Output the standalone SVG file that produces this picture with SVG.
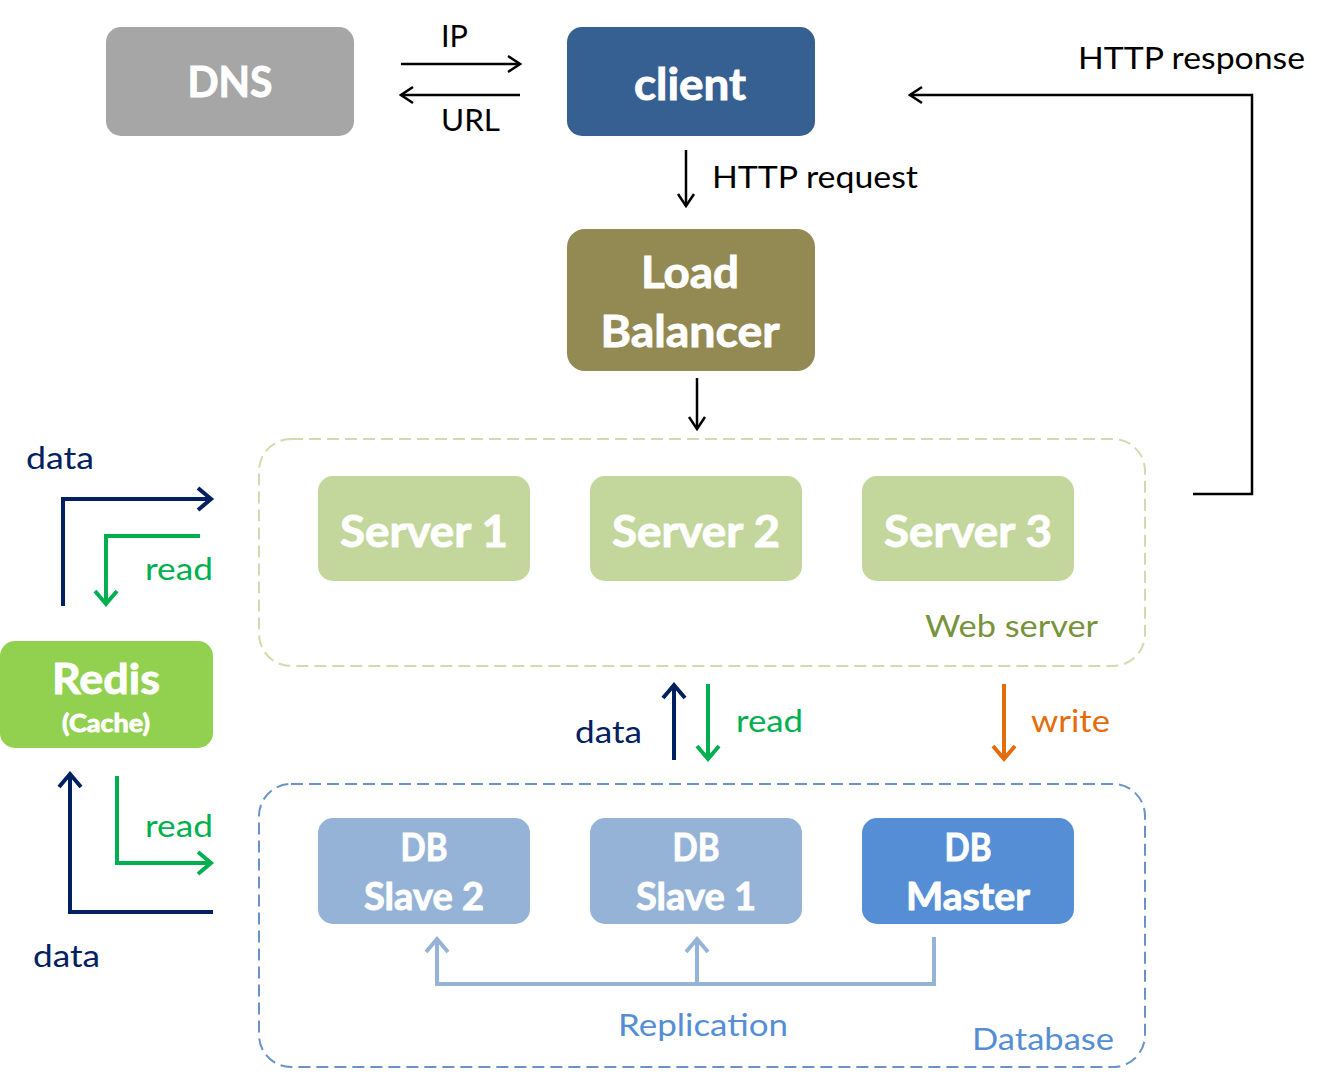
<svg xmlns="http://www.w3.org/2000/svg" width="1330" height="1083" viewBox="0 0 1330 1083">
<style>
  .lbl { font-family: Lato, "Liberation Sans", sans-serif; font-size: 30px; }
  .bold { font-family: Lato, "Liberation Sans", sans-serif; font-weight: bold; fill: #ffffff; stroke: #ffffff; stroke-width: 0.9; text-anchor: middle; }
  .blk { stroke: #000; stroke-width: 2.5; fill: none; }
  .navy { stroke: #002060; stroke-width: 4; fill: none; }
  .green { stroke: #00b050; stroke-width: 4; fill: none; }
  .orange { stroke: #e46c0a; stroke-width: 4; fill: none; }
  .repl { stroke: #95b3d7; stroke-width: 4; fill: none; }
</style>
<defs>
  <marker id="ahBlack" markerUnits="userSpaceOnUse" viewBox="0 0 20 20" markerWidth="20" markerHeight="20" refX="18" refY="10" orient="auto">
    <path d="M6,2 L18,10 L6,18" fill="none" stroke="#000" stroke-width="2.5"/>
  </marker>
  <marker id="ahNavy" markerUnits="userSpaceOnUse" viewBox="0 0 22 26" markerWidth="22" markerHeight="26" refX="19" refY="13" orient="auto">
    <path d="M5,2 L18,13 L5,24" fill="none" stroke="#002060" stroke-width="4"/>
  </marker>
  <marker id="ahGreen" markerUnits="userSpaceOnUse" viewBox="0 0 22 26" markerWidth="22" markerHeight="26" refX="19" refY="13" orient="auto">
    <path d="M5,2 L18,13 L5,24" fill="none" stroke="#00b050" stroke-width="4"/>
  </marker>
  <marker id="ahOrange" markerUnits="userSpaceOnUse" viewBox="0 0 22 26" markerWidth="22" markerHeight="26" refX="19" refY="13" orient="auto">
    <path d="M5,2 L18,13 L5,24" fill="none" stroke="#e46c0a" stroke-width="4"/>
  </marker>
  <marker id="ahRepl" markerUnits="userSpaceOnUse" viewBox="0 0 22 26" markerWidth="22" markerHeight="26" refX="19" refY="13" orient="auto">
    <path d="M5,2 L18,13 L5,24" fill="none" stroke="#95b3d7" stroke-width="4"/>
  </marker>
</defs>
<rect width="1330" height="1083" fill="#ffffff"/>

<!-- containers -->
<g id="webserver-group">
  <rect x="259" y="439" width="886" height="227" rx="32" fill="none" stroke="#cfdcaf" stroke-width="2" stroke-dasharray="12 6"/>
  <text class="lbl" x="925" y="637" fill="#77933c" textLength="173" lengthAdjust="spacingAndGlyphs">Web server</text>
</g>
<g id="database-group">
  <rect x="259" y="784" width="886" height="283" rx="32" fill="none" stroke="#6a92c8" stroke-width="2" stroke-dasharray="12 6"/>
  <text class="lbl" x="972" y="1050" fill="#558ed5" textLength="142" lengthAdjust="spacingAndGlyphs">Database</text>
</g>

<!-- nodes -->
<g id="dns">
  <rect x="106" y="27" width="248" height="109" rx="15" fill="#a6a6a6"/>
  <text class="bold" x="230" y="97" font-size="42" textLength="85" lengthAdjust="spacingAndGlyphs">DNS</text>
</g>
<g id="client">
  <rect x="567" y="27" width="248" height="109" rx="15" fill="#376092"/>
  <text class="bold" x="690" y="100" font-size="44" textLength="112" lengthAdjust="spacingAndGlyphs">client</text>
</g>
<g id="load-balancer">
  <rect x="567" y="229" width="248" height="142" rx="18" fill="#938953"/>
  <text class="bold" x="690" y="288" font-size="44" textLength="98" lengthAdjust="spacingAndGlyphs">Load</text>
  <text class="bold" x="690" y="347" font-size="44" textLength="179" lengthAdjust="spacingAndGlyphs">Balancer</text>
</g>
<g id="server1">
  <rect x="318" y="476" width="212" height="105" rx="15" fill="#c3d69b"/>
  <text class="bold" x="424" y="547" font-size="44" textLength="168" lengthAdjust="spacingAndGlyphs">Server 1</text>
</g>
<g id="server2">
  <rect x="590" y="476" width="212" height="105" rx="15" fill="#c3d69b"/>
  <text class="bold" x="696" y="547" font-size="44" textLength="168" lengthAdjust="spacingAndGlyphs">Server 2</text>
</g>
<g id="server3">
  <rect x="862" y="476" width="212" height="105" rx="15" fill="#c3d69b"/>
  <text class="bold" x="968" y="547" font-size="44" textLength="168" lengthAdjust="spacingAndGlyphs">Server 3</text>
</g>
<g id="redis">
  <rect x="0" y="641" width="213" height="107" rx="15" fill="#92d050"/>
  <text class="bold" x="106" y="694" font-size="42" textLength="108" lengthAdjust="spacingAndGlyphs">Redis</text>
  <text class="bold" x="106" y="732" font-size="24" textLength="88" lengthAdjust="spacingAndGlyphs" stroke-width="0.5">(Cache)</text>
</g>
<g id="db-slave2">
  <rect x="318" y="818" width="212" height="106" rx="15" fill="#95b3d7"/>
  <text class="bold" x="424" y="861" font-size="38" textLength="47" lengthAdjust="spacingAndGlyphs">DB</text>
  <text class="bold" x="424" y="910" font-size="38" textLength="120" lengthAdjust="spacingAndGlyphs">Slave 2</text>
</g>
<g id="db-slave1">
  <rect x="590" y="818" width="212" height="106" rx="15" fill="#95b3d7"/>
  <text class="bold" x="696" y="861" font-size="38" textLength="47" lengthAdjust="spacingAndGlyphs">DB</text>
  <text class="bold" x="696" y="910" font-size="38" textLength="120" lengthAdjust="spacingAndGlyphs">Slave 1</text>
</g>
<g id="db-master">
  <rect x="862" y="818" width="212" height="106" rx="15" fill="#558ed5"/>
  <text class="bold" x="968" y="861" font-size="38" textLength="47" lengthAdjust="spacingAndGlyphs">DB</text>
  <text class="bold" x="968" y="910" font-size="38" textLength="124" lengthAdjust="spacingAndGlyphs">Master</text>
</g>

<!-- connectors -->
<g id="connectors">
  <line class="blk" x1="401" y1="64" x2="520" y2="64" marker-end="url(#ahBlack)"/>
  <line class="blk" x1="520" y1="95" x2="401" y2="95" marker-end="url(#ahBlack)"/>
  <text class="lbl" x="441" y="47" fill="#000" textLength="27" lengthAdjust="spacingAndGlyphs">IP</text>
  <text class="lbl" x="441" y="131" fill="#000" textLength="59" lengthAdjust="spacingAndGlyphs">URL</text>

  <line class="blk" x1="686" y1="150" x2="686" y2="206" marker-end="url(#ahBlack)"/>
  <text class="lbl" x="712" y="188" fill="#000" textLength="206" lengthAdjust="spacingAndGlyphs">HTTP request</text>

  <line class="blk" x1="697" y1="378" x2="697" y2="429" marker-end="url(#ahBlack)"/>

  <path class="blk" d="M1193,494 H1252 V95 H910" marker-end="url(#ahBlack)"/>
  <text class="lbl" x="1078" y="69" fill="#000" textLength="227" lengthAdjust="spacingAndGlyphs">HTTP response</text>

  <line class="navy" x1="674" y1="760" x2="674" y2="684" marker-end="url(#ahNavy)"/>
  <text class="lbl" x="575" y="743" fill="#002060" textLength="67" lengthAdjust="spacingAndGlyphs">data</text>
  <line class="green" x1="708" y1="684" x2="708" y2="760" marker-end="url(#ahGreen)"/>
  <text class="lbl" x="736" y="732" fill="#00b050" textLength="67" lengthAdjust="spacingAndGlyphs">read</text>
  <line class="orange" x1="1004" y1="684" x2="1004" y2="760" marker-end="url(#ahOrange)"/>
  <text class="lbl" x="1031" y="732" fill="#e46c0a" textLength="79" lengthAdjust="spacingAndGlyphs">write</text>

  <path class="navy" d="M63,606 V499 H212" marker-end="url(#ahNavy)"/>
  <text class="lbl" x="26" y="469" fill="#002060" textLength="68" lengthAdjust="spacingAndGlyphs">data</text>
  <path class="green" d="M200,536 H106 V605" marker-end="url(#ahGreen)"/>
  <text class="lbl" x="145" y="580" fill="#00b050" textLength="68" lengthAdjust="spacingAndGlyphs">read</text>

  <path class="navy" d="M213,912 H70 V773" marker-end="url(#ahNavy)"/>
  <text class="lbl" x="33" y="967" fill="#002060" textLength="67" lengthAdjust="spacingAndGlyphs">data</text>
  <path class="green" d="M117,776 V863 H212" marker-end="url(#ahGreen)"/>
  <text class="lbl" x="145" y="837" fill="#00b050" textLength="68" lengthAdjust="spacingAndGlyphs">read</text>

  <path class="repl" d="M934,937 V984 H437 V938" marker-end="url(#ahRepl)"/>
  <line class="repl" x1="697" y1="984" x2="697" y2="938" marker-end="url(#ahRepl)"/>
  <text class="lbl" x="618" y="1036" fill="#558ed5" textLength="170" lengthAdjust="spacingAndGlyphs">Replication</text>
</g>
</svg>
